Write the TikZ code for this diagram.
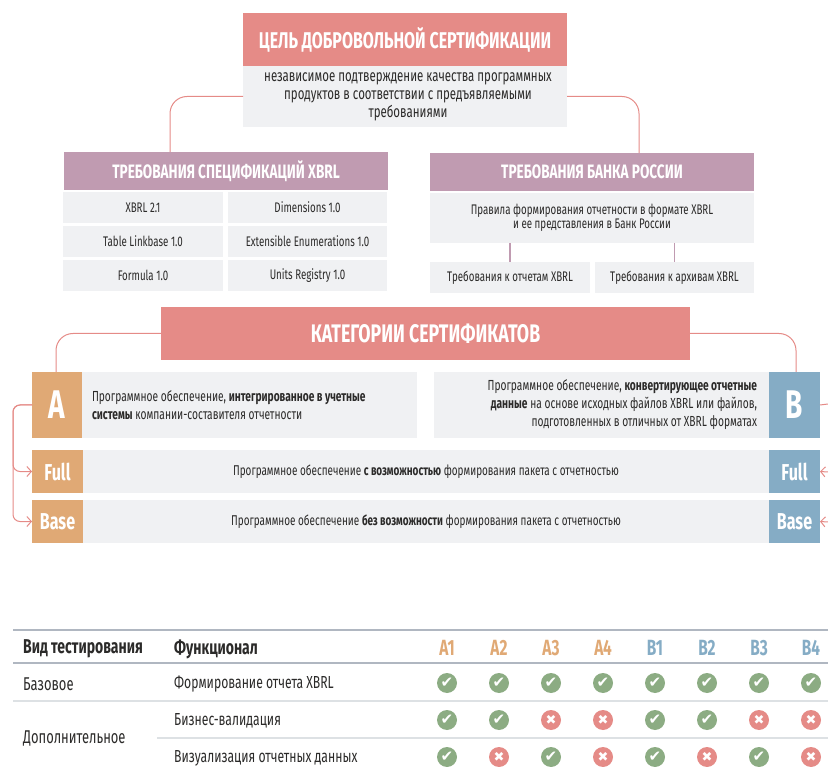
\documentclass[tikz,border=0pt]{standalone}
\usepackage{fontspec}
\setmainfont[FakeStretch=0.7]{Fira Sans}
\newfontfamily\symfont{DejaVu Sans}
\usetikzlibrary{arrows.meta}
\definecolor{redhead}{HTML}{E58B87}
\definecolor{plumhead}{HTML}{C09BB1}
\definecolor{graybox}{HTML}{F0F1F3}
\definecolor{orangebox}{HTML}{E0A975}
\definecolor{bluebox}{HTML}{85ACC5}
\definecolor{okgreen}{HTML}{8CAC83}
\definecolor{rulegray}{HTML}{B0B7C1}
\definecolor{rulelight}{HTML}{DDE1E4}
\definecolor{inktext}{HTML}{2B2A29}
\def\okglyph{✔}
\def\noglyph{✖}
\tikzset{
  cell/.style={anchor=north west,inner sep=0pt,outer sep=0pt,text=inktext,font=\fontsize{13.9}{14.5}\selectfont,align=center},
  grayc/.style={cell,fill=graybox},
  redc/.style={cell,fill=redhead,text=white,font=\fontsize{22.8}{26}\bfseries\selectfont},
  plumc/.style={cell,fill=plumhead,text=white,font=\fontsize{19.4}{22}\bfseries\selectfont},
  letterc/.style={cell,text=white,font=\fontsize{23}{26}\bfseries\selectfont},
  conn/.style={draw=redhead,line width=1pt,rounded corners=17pt},
  railc/.style={draw=redhead,line width=1pt,rounded corners=7pt,-{Straight Barb[length=4.5pt,width=10pt]}},
  plumline/.style={draw=plumhead,line width=1.5pt},
  headt/.style={anchor=west,inner sep=0pt,text=inktext,font=\fontsize{20}{22}\bfseries\selectfont},
  rowl/.style={anchor=west,inner sep=0pt,text=inktext,font=\fontsize{18.5}{22}\selectfont},
  rowt/.style={anchor=west,inner sep=0pt,text=inktext,font=\fontsize{17.4}{20}\selectfont},
  colt/.style={anchor=center,inner sep=0pt,font=\fontsize{22}{24}\bfseries\selectfont},
  okmark/.style={circle,fill=okgreen,minimum size=20pt,inner sep=0pt,text=white,font=\symfont\fontsize{15}{15}\selectfont},
  nomark/.style={circle,fill=redhead,minimum size=20pt,inner sep=0pt,text=white,font=\symfont\fontsize{13}{13}\selectfont}
}
\begin{document}
\begin{tikzpicture}[x=1pt,y=-1pt]
\useasboundingbox (0,0) rectangle (828,767);
% goal
\node[redc,minimum width=324pt,minimum height=53pt] (goalhead) at (243,13) {ЦЕЛЬ ДОБРОВОЛЬНОЙ СЕРТИФИКАЦИИ};
\node[grayc,minimum width=324pt,minimum height=61pt,font=\fontsize{16.4}{18}\selectfont] (goalbody) at (243,66) {\hspace*{6pt}независимое подтверждение качества программных\\\hspace*{6pt}продуктов в соответствии с предъявляемыми\\\hspace*{6pt}требованиями};

% xbrl column
\node[plumc,minimum width=324pt,minimum height=38pt] (spechead) at (64,152) {ТРЕБОВАНИЯ СПЕЦИФИКАЦИЙ XBRL};
\node[grayc,minimum width=160pt,minimum height=31pt] (spec1) at (63,192) {XBRL 2.1};
\node[grayc,minimum width=159pt,minimum height=31pt] (spec2) at (228,192) {Dimensions 1.0};
\node[grayc,minimum width=160pt,minimum height=31pt] (spec3) at (63,226) {Table Linkbase 1.0};
\node[grayc,minimum width=159pt,minimum height=31pt] (spec4) at (228,226) {Extensible Enumerations 1.0};
\node[grayc,minimum width=160pt,minimum height=31pt] (spec5) at (63,260) {Formula 1.0};
\node[grayc,minimum width=159pt,minimum height=31pt] (spec6) at (228,260) {Units Registry 1.0};

% bank column
\node[plumc,minimum width=324pt,minimum height=38pt] (bankhead) at (430,153) {ТРЕБОВАНИЯ БАНКА РОССИИ};
\node[grayc,minimum width=324pt,minimum height=50pt] (bankbody) at (430,193) {Правила формирования отчетности в формате XBRL\\и ее представления в Банк России};
\node[grayc,minimum width=160pt,minimum height=31pt] (bankl) at (430,262) {Требования к отчетам XBRL};
\node[grayc,minimum width=159pt,minimum height=31pt] (bankr) at (595,262) {Требования к архивам XBRL};
\draw[plumline] (bankbody.south -| bankl.north) -- (bankl.north);
\draw[plumline] (bankbody.south -| bankr.north) -- (bankr.north);

\coordinate (specin) at (170,152);
\coordinate (bankin) at (639,153);
\draw[conn] (goalbody.west) -| (specin);
\draw[conn] (goalbody.east) -| (bankin);

% categories
\node[redc,minimum width=529pt,minimum height=53pt,font=\fontsize{25.4}{28}\bfseries\selectfont] (cathead) at (161,307) {КАТЕГОРИИ СЕРТИФИКАТОВ};
\node[letterc,fill=orangebox,minimum width=50pt,minimum height=66pt,font=\fontsize{40}{44}\bfseries\selectfont] (lettera) at (32,372) {A};
\node[letterc,fill=bluebox,minimum width=51pt,minimum height=66pt,font=\fontsize{40}{44}\bfseries\selectfont] (letterb) at (769,372) {B};
\node[grayc,minimum width=335pt,minimum height=66pt,text width=315pt,inner xsep=10pt,align=flush left,font=\fontsize{14.6}{18}\selectfont] (texta) at (82,372) {Программное обеспечение, \textbf{интегрированное в учетные}\\\textbf{системы} компании-составителя отчетности};
\node[grayc,minimum width=335pt,minimum height=66pt,text width=311pt,inner xsep=12pt,align=flush right,font=\fontsize{14.6}{18}\selectfont] (textb) at (434,372) {Программное обеспечение, \textbf{конвертирующее отчетные}\\\textbf{данные} на основе исходных файлов XBRL или файлов,\\подготовленных в отличных от XBRL форматах};

\node[letterc,fill=orangebox,minimum width=51pt,minimum height=43pt] (fulla) at (32,450) {Full};
\node[grayc,minimum width=686pt,minimum height=43pt,font=\fontsize{14.2}{15}\selectfont] (fulltext) at (83,450) {Программное обеспечение \textbf{с возможностью} формирования пакета с отчетностью};
\node[letterc,fill=bluebox,minimum width=51pt,minimum height=43pt] (fullb) at (769,450) {Full};
\node[letterc,fill=orangebox,minimum width=51pt,minimum height=43pt] (basea) at (32,500) {Base};
\node[grayc,minimum width=686pt,minimum height=43pt,font=\fontsize{14.2}{15}\selectfont] (basetext) at (83,500) {Программное обеспечение \textbf{без возможности} формирования пакета с отчетностью};
\node[letterc,fill=bluebox,minimum width=51pt,minimum height=43pt] (baseb) at (769,500) {Base};

\coordinate (catinl) at (56,372);
\coordinate (catinr) at (796,372);
\draw[conn] (cathead.west) -| (catinl);
\draw[conn] (cathead.east) -| (catinr);

\coordinate (railw) at (13,450);
\draw[railc] (lettera.west) -| (railw) |- (fulla.west);
\draw[railc] (lettera.west) -| (railw) |- (basea.west);
\coordinate (stubb) at (828,404);
\coordinate (stubf) at (828,472);
\coordinate (stubs) at (828,522);
\draw[draw=redhead,line width=1pt] (letterb.east) -- (stubb);
\draw[railc] (stubf) -- (fullb.east);
\draw[railc] (stubs) -- (baseb.east);

% table
\coordinate (t1l) at (13,630);
\coordinate (t1r) at (828,630);
\coordinate (t2l) at (13,663);
\coordinate (t2r) at (828,663);
\coordinate (t3l) at (13,701);
\coordinate (t3r) at (828,701);
\coordinate (t4l) at (157,738);
\coordinate (t4r) at (828,738);
\draw[rulegray,line width=1.6pt] (t1l) -- (t1r);
\draw[rulegray,line width=1.6pt] (t2l) -- (t2r);
\draw[rulelight,line width=1.6pt] (t3l) -- (t3r);
\draw[rulelight,line width=1.6pt] (t4l) -- (t4r);

\node[headt] (hkind) at (23,649) {Вид тестирования};
\node[headt] (hfunc) at (174,649) {Функционал};
\node[rowl] (rbase) at (23,684) {Базовое};
\node[rowl] (radd) at (23,739) {Дополнительное};
\node[rowt] (f1) at (174,684) {Формирование отчета XBRL};
\node[rowt] (f2) at (174,721) {Бизнес-валидация};
\node[rowt] (f3) at (174,758) {Визуализация отчетных данных};

\foreach \x/\t/\c in {447/A1/orangebox,499/A2/orangebox,551/A3/orangebox,603/A4/orangebox,655/B1/bluebox,707/B2/bluebox,759/B3/bluebox,811/B4/bluebox}
  \node[colt,text=\c] (col\t) at (\x,648) {\t};

\foreach \x/\n/\a/\b/\d in {447/1/ok/ok/ok,499/2/ok/ok/no,551/3/ok/no/ok,603/4/ok/no/no,655/5/ok/ok/ok,707/6/ok/ok/no,759/7/ok/no/ok,811/8/ok/no/no} {
  \node[\a mark] (ma\n) at (\x,683) {\csname\a glyph\endcsname};
  \node[\b mark] (mb\n) at (\x,720) {\csname\b glyph\endcsname};
  \node[\d mark] (mc\n) at (\x,757) {\csname\d glyph\endcsname};
}
\end{tikzpicture}
\end{document}
